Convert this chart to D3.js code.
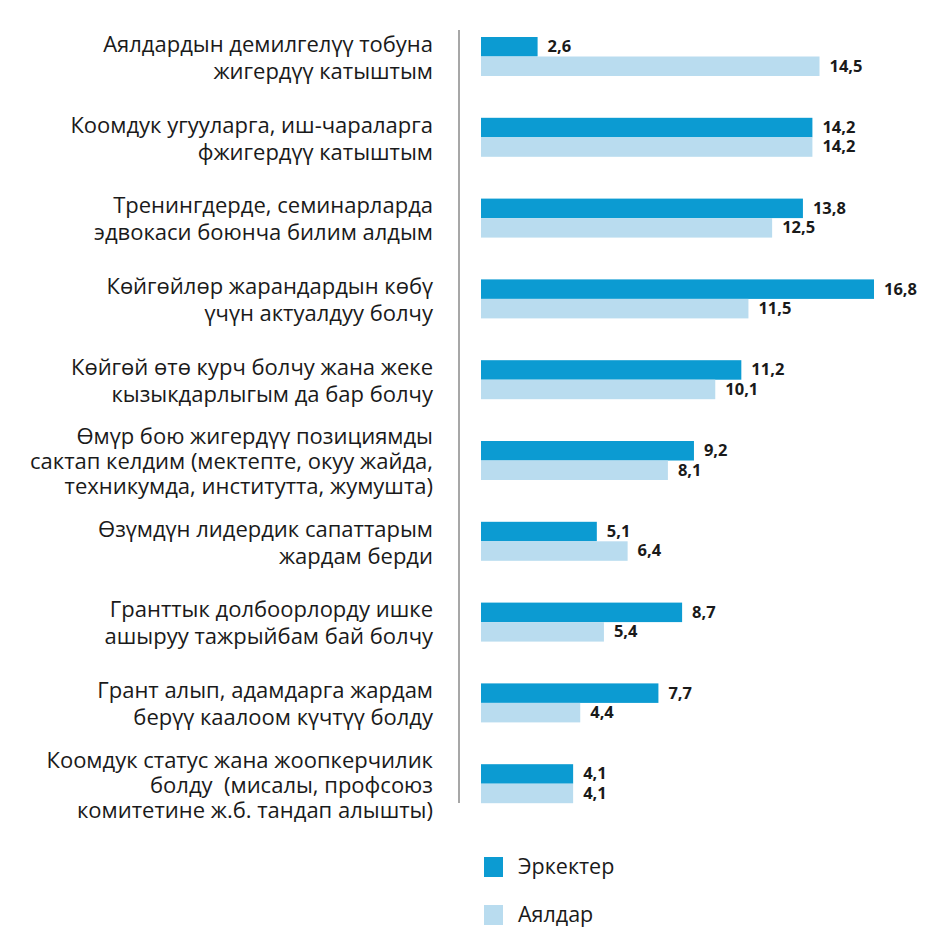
<!DOCTYPE html>
<html><head><meta charset="utf-8">
<script src="https://cdn.jsdelivr.net/npm/d3@7"></script>
<style>body{margin:0;background:#fff}svg{display:block}text{white-space:pre}</style>
</head><body>
<script>
const categories = [
  ["Аялдардын демилгелүү тобуна","жигердүү катыштым"],
  ["Коомдук угууларга, иш-чараларга","фжигердүү катыштым"],
  ["Тренингдерде, семинарларда","эдвокаси боюнча билим алдым"],
  ["Көйгөйлөр жарандардын көбү","үчүн актуалдуу болчу"],
  ["Көйгөй өтө курч болчу жана жеке","кызыкдарлыгым да бар болчу"],
  ["Өмүр бою жигердүү позициямды","сактап келдим (мектепте, окуу жайда,","техникумда, институтта, жумушта)"],
  ["Өзүмдүн лидердик сапаттарым","жардам берди"],
  ["Гранттык долбоорлорду ишке","ашыруу тажрыйбам бай болчу"],
  ["Грант алып, адамдарга жардам","берүү каалоом күчтүү болду"],
  ["Коомдук статус жана жоопкерчилик","болду  (мисалы, профсоюз","комитетине ж.б. тандап алышты)"]
];
const men   = [2.6, 14.2, 13.8, 16.8, 11.2, 9.2, 5.1, 8.7, 7.7, 4.1];
const women = [14.5, 14.2, 12.5, 11.5, 10.1, 8.1, 6.4, 5.4, 4.4, 4.1];
const seriesNames = ["Эркектер", "Аялдар"];
const colors = ["#0c9bd2", "#b9dcef"];

const W = 930, H = 927;
const svg = d3.select("body").append("svg").attr("width", W).attr("height", H);

const x = d3.scaleLinear().domain([0, 16.8]).range([476, 874]);
const barStart = 481;
const y = d3.scaleBand().domain(d3.range(categories.length)).range([32, 840]).paddingInner(0);
const bh = 19.5;
const fmt = v => d3.format(".1f")(v).replace(".", ",");
const FONT = "'Open Sans', 'Noto Sans', sans-serif";

// axis line
svg.append("line").attr("x1", 459).attr("x2", 459).attr("y1", 30).attr("y2", 803)
  .attr("stroke", "#8a8a8a").attr("stroke-width", 1.5);

const g = svg.append("g");
categories.forEach((lines, i) => {
  const top = y(i) + 5;
  [men[i], women[i]].forEach((v, s) => {
    const yy = top + s * bh;
    g.append("rect").attr("x", barStart).attr("y", yy)
      .attr("width", x(v) - barStart).attr("height", bh).attr("fill", colors[s]);
    g.append("text").attr("x", x(v) + 10).attr("y", yy + bh / 2 + 1)
      .attr("dominant-baseline", "middle")
      .attr("font-family", FONT).attr("font-weight", "bold").attr("font-size", 16.5)
      .attr("fill", "#1a1a1a").text(fmt(v));
  });
  const cy = top + bh + 3;
  const lh = lines.length === 3 ? 25 : 27;
  const t = g.append("text").attr("text-anchor", "end")
    .attr("font-family", FONT).attr("font-size", 22).attr("fill", "#1a1a1a");
  lines.forEach((ln, k) => {
    t.append("tspan").attr("x", 433)
      .attr("y", cy + (k - (lines.length - 1) / 2) * lh)
      .attr("dominant-baseline", "middle").text(ln);
  });
});

// legend
const leg = svg.append("g");
seriesNames.forEach((n, s) => {
  const yy = 857 + s * 48;
  leg.append("rect").attr("x", 484).attr("y", yy).attr("width", 19).attr("height", 20).attr("fill", colors[s]);
  leg.append("text").attr("x", 518).attr("y", yy + 11).attr("dominant-baseline", "middle")
    .attr("font-family", FONT).attr("font-size", 21.5).attr("fill", "#1a1a1a").text(n);
});
</script>
</body></html>
